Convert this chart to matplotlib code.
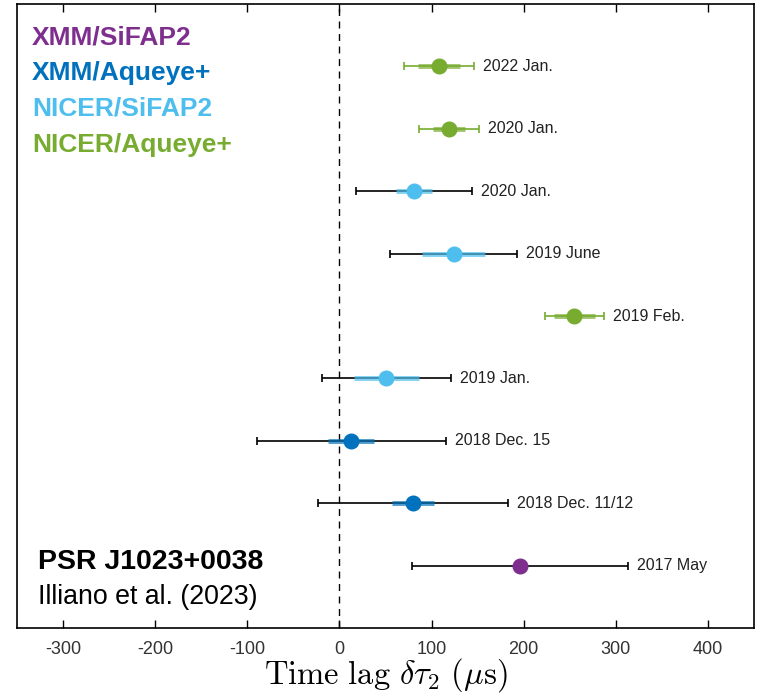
import matplotlib
matplotlib.use("Agg")
import matplotlib.pyplot as plt

plt.rcParams['font.family'] = ['Liberation Sans', 'DejaVu Sans']
plt.rcParams['mathtext.fontset'] = 'cm'
plt.rcParams['axes.unicode_minus'] = False

# observing campaigns, top to bottom
dates = ['2022 Jan.', '2020 Jan.', '2020 Jan.', '2019 June', '2019 Feb.',
         '2019 Jan.', '2018 Dec. 15', '2018 Dec. 11/12', '2017 May']
instruments = ['NICER/Aqueye+', 'NICER/Aqueye+', 'NICER/SiFAP2', 'NICER/SiFAP2',
               'NICER/Aqueye+', 'NICER/SiFAP2', 'XMM/Aqueye+', 'XMM/Aqueye+',
               'XMM/SiFAP2']
lag = [108, 119, 81, 124, 255, 51, 13, 80, 196]
err_stat = [23, 17, 20, 34, 22, 35, 25, 23, 8]
err_tot = [38, 33, 63, 69, 32, 70, 103, 103, 117]

legend_names = ['XMM/SiFAP2', 'XMM/Aqueye+', 'NICER/SiFAP2', 'NICER/Aqueye+']
colors = {'XMM/SiFAP2': '#7E2F8E', 'XMM/Aqueye+': '#0072BD',
          'NICER/SiFAP2': '#4DBEEE', 'NICER/Aqueye+': '#77AC30'}

fig = plt.figure(figsize=(7.57, 6.95), dpi=100)
ax = fig.add_axes([0.0225, 0.0964, 0.9735, 0.8978])

n = len(dates)
for i in range(n):
    y = n - i
    c = colors[instruments[i]]
    outer = c if instruments[i] == 'NICER/Aqueye+' else 'black'
    ax.errorbar(lag[i], y, xerr=err_tot[i], fmt='none', ecolor=outer,
                elinewidth=1.2, capsize=3, capthick=1.2, zorder=2)
    ax.errorbar(lag[i], y, xerr=err_stat[i], fmt='none', ecolor=c,
                elinewidth=3.5, alpha=0.7, capsize=0, zorder=3)
    ax.plot(lag[i], y, 'o', color=c, markersize=10.5, zorder=4)
    ax.annotate(dates[i], (lag[i] + err_tot[i], y), xytext=(6.5, 0),
                textcoords='offset points', va='center', ha='left',
                fontsize=11.5, color='#222222')

ax.axvline(0, color='black', lw=1.0, ls=(0, (5, 4)), zorder=1)

ax.set_xlim(-350, 450)
ax.set_ylim(0, 10)
ax.set_xticks([-300, -200, -100, 0, 100, 200, 300, 400])
ax.set_yticks([])
ax.tick_params(axis='x', direction='in', top=True, length=6, width=1.0,
               pad=9, labelsize=13, labelcolor='#333333')
for s in ax.spines.values():
    s.set_linewidth(1.2)

ax.set_xlabel(r'$\mathrm{Time\ lag}\ \delta\tau_2\ (\mu\mathrm{s})$',
              fontsize=23.5, labelpad=-1)

for k, name in enumerate(legend_names):
    ax.text(0.0204, 0.947 - k * 0.0575, name, transform=ax.transAxes,
            color=colors[name], fontsize=19, fontweight='bold', va='center')

ax.text(0.0285, 0.106, 'PSR J1023+0038', transform=ax.transAxes,
        fontsize=20.5, fontweight='bold', va='center')
ax.text(0.0285, 0.050, 'Illiano et al. (2023)', transform=ax.transAxes,
        fontsize=19.3, va='center')

fig.savefig('out.png', dpi=100)
